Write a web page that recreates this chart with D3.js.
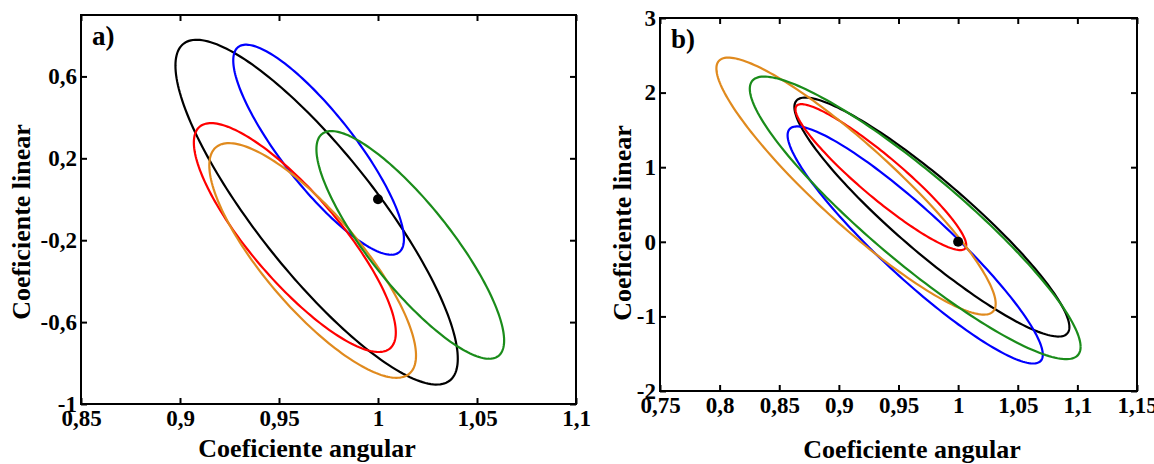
<!DOCTYPE html>
<html><head><meta charset="utf-8">
<script src="https://cdn.jsdelivr.net/npm/d3@7"></script>
<style>body{margin:0;background:#fff}svg{display:block}</style>
</head><body>
<svg id="c" width="1154" height="464"></svg>
<script>
// Panel a) ellipse parameters: center x, center y, half-range x, half-range y, correlation
const seriesNames = ["black","blue","red","orange","green"];
const seriesColors = ["#000000","#0000ff","#ff0000","#e08a1e","#1a8c1a"];
const aCx = [0.969, 0.970, 0.958, 0.967, 1.0163];
const aCy = [-0.063, 0.242, -0.187, -0.299, -0.223];
const aSx = [0.0713, 0.0431, 0.051, 0.0522, 0.0474];
const aSy = [0.842, 0.513, 0.559, 0.573, 0.556];
const aRho = [-0.85, -0.85, -0.83, -0.81, -0.84];
// Panel b)
const bCx = [0.978, 0.964, 0.9352, 0.9144, 0.964];
const bCy = [0.332, -0.0425, 0.867, 0.7465, 0.321];
const bSx = [0.1153, 0.107, 0.0716, 0.1171, 0.1387];
const bSy = [1.602, 1.589, 0.978, 1.7225, 1.894];
const bRho = [-0.92, -0.925, -0.93, -0.915, -0.913];
const refPoint = [1, 0];
// Ticks
const aXTicks = [0.85, 0.9, 0.95, 1, 1.05, 1.1];
const aXLabels = ["0,85","0,9","0,95","1","1,05","1,1"];
const aYTicks = [-1, -0.6, -0.2, 0.2, 0.6];
const aYLabels = ["-1","-0,6","-0,2","0,2","0,6"];
const bXTicks = [0.75,0.8,0.85,0.9,0.95,1,1.05,1.1,1.15];
const bXLabels = ["0,75","0,8","0,85","0,9","0,95","1","1,05","1,1","1,15"];
const bYTicks = [-2,-1,0,1,2,3];
const bYLabels = ["-2","-1","0","1","2","3"];

const FONT = '"Liberation Serif", "Times New Roman", Times, "DejaVu Serif", serif';
const svg = d3.select("#c");

function ellipsePts(cx, cy, sx, sy, rho) {
  const n = 200, pts = [];
  const k = Math.sqrt(1 - rho*rho);
  for (let i = 0; i <= n; i++) {
    const t = 2*Math.PI*i/n;
    pts.push([cx + sx*Math.cos(t), cy + sy*(rho*Math.cos(t) + k*Math.sin(t))]);
  }
  return pts;
}

function styleText(sel, size) {
  sel.attr("font-family", FONT).attr("font-weight", "bold").attr("font-size", size)
     .style("font-family", FONT).style("font-weight", "bold").style("font-size", size + "px").attr("fill", "#000");
}

function panel(o) {
  const g = svg.append("g");
  const x = d3.scaleLinear().domain(o.xd).range([o.left, o.right]);
  const y = d3.scaleLinear().domain(o.yd).range([o.bottom, o.top]);
  const line = d3.line().x(d => x(d[0])).y(d => y(d[1]));
  o.cx.forEach((c, i) => {
    g.append("path").datum(ellipsePts(o.cx[i], o.cy[i], o.sx[i], o.sy[i], o.rho[i]))
      .attr("d", line).attr("fill", "none").attr("stroke", seriesColors[i]).attr("stroke-width", 2.2);
  });
  g.append("circle").attr("cx", x(refPoint[0])).attr("cy", y(refPoint[1])).attr("r", 5).attr("fill", "#000");
  g.append("rect").attr("x", o.left).attr("y", o.top).attr("width", o.right-o.left).attr("height", o.bottom-o.top)
    .attr("fill", "none").attr("stroke", "#000").attr("stroke-width", 2);
  const tl = 6;
  const bx = g.append("g").attr("transform", `translate(0,${o.bottom})`)
    .call(d3.axisBottom(x).tickValues(o.xt).tickSize(-tl).tickPadding(7).tickFormat((d,i) => o.xl[i]));
  const tx = g.append("g").attr("transform", `translate(0,${o.top})`)
    .call(d3.axisTop(x).tickValues(o.xt).tickSize(-tl).tickFormat(""));
  const ly = g.append("g").attr("transform", `translate(${o.left},0)`)
    .call(d3.axisLeft(y).tickValues(o.yt).tickSize(-tl).tickPadding(4).tickFormat((d,i) => o.yl[i]));
  const ry = g.append("g").attr("transform", `translate(${o.right},0)`)
    .call(d3.axisRight(y).tickValues(o.yt).tickSize(-tl).tickFormat(""));
  [bx, tx, ly, ry].forEach(a => {
    a.attr("font-family", FONT);
    a.select(".domain").remove();
    a.selectAll(".tick line").attr("stroke", "#000").attr("stroke-width", 2);
    styleText(a.selectAll(".tick text"), 23);
  });
  bx.selectAll(".tick text").attr("dy", "0.66em");
  g.append("text").attr("x", o.xtx).attr("y", o.xty).attr("text-anchor", "middle").text("Coeficiente angular").call(styleText, 26);
  g.append("text").attr("transform", `translate(${o.ytx},${o.yty}) rotate(-90)`).attr("text-anchor", "middle").text("Coeficiente linear").call(styleText, 26);
  g.append("text").attr("x", o.left + 11).attr("y", o.top + 30).text(o.tag).call(styleText, 27);
}

panel({xd:[0.85,1.1], yd:[-1,0.9], left:81, right:576, top:15, bottom:404,
  cx:aCx, cy:aCy, sx:aSx, sy:aSy, rho:aRho, xt:aXTicks, xl:aXLabels, yt:aYTicks, yl:aYLabels,
  xtx:307, xty:457, ytx:30, yty:222, tag:"a)"});
panel({xd:[0.75,1.15], yd:[-2,3], left:660, right:1137, top:18, bottom:391,
  cx:bCx, cy:bCy, sx:bSx, sy:bSy, rho:bRho, xt:bXTicks, xl:bXLabels, yt:bYTicks, yl:bYLabels,
  xtx:912, xty:458, ytx:631, yty:223, tag:"b)"});
</script>
</body></html>
